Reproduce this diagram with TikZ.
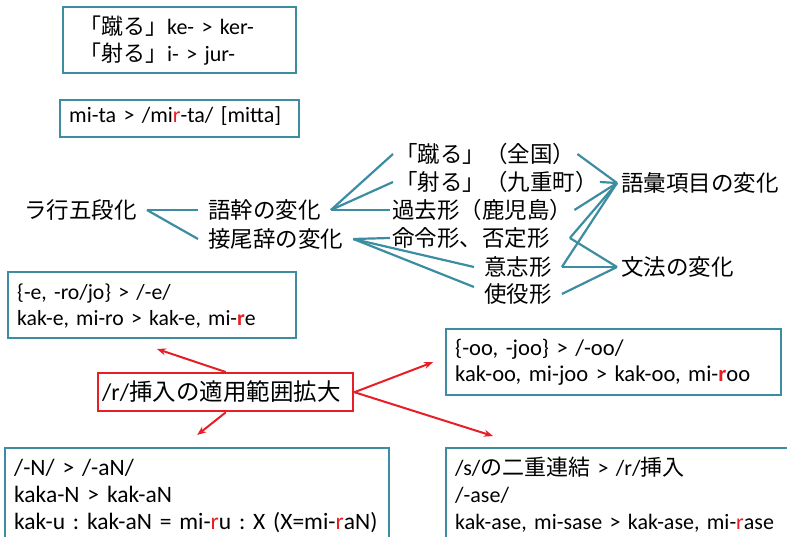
\documentclass[tikz,border=0pt]{standalone}
\usepackage{fontspec}
\setmainfont{Carlito}
\newfontfamily\jp{Noto Sans CJK JP}
\usetikzlibrary{arrows.meta}
\definecolor{tealc}{RGB}{60,141,162}
\definecolor{redc}{RGB}{232,30,36}
\newcommand{\rr}{\textcolor{redc}{r}}
\newcommand{\rb}{\textcolor{redc}{\textbf{r}}}
\frenchspacing
\begin{document}
\begin{tikzpicture}[x=1pt,y=-1pt,
  tbox/.style={draw=tealc, line width=2.4pt, fill=white, rectangle, inner sep=0pt, anchor=north west},
  redbox/.style={draw=redc, line width=2.4pt, fill=white, rectangle, inner sep=0pt, anchor=north west},
  btext/.style={anchor=base west, inner sep=0pt, text width=420pt, align=left, font=\fontsize{22}{26.7}\selectfont},
  tlabel/.style={anchor=west, inner xsep=2pt, inner ysep=0pt, font=\jp\fontsize{22.5}{27}\selectfont},
  wlabel/.style={tlabel, inner xsep=10pt},
  tline/.style={draw=tealc, line width=2.2pt},
  rarrow/.style={draw=redc, line width=2pt, -{Stealth[length=9pt,width=7pt]}},
]
\useasboundingbox (0,0) rectangle (787,537);
\clip (0,0) rectangle (787,537);

% boxes
\node[tbox, minimum width=233pt, minimum height=66pt] (b1) at (62,6) {};
\node[tbox, minimum width=239pt, minimum height=37pt] (b2) at (59,99) {};
\node[tbox, minimum width=288pt, minimum height=66pt] (b3) at (7,271) {};
\node[redbox, minimum width=255pt, minimum height=38pt] (rb) at (97,372) {};
\node[tbox, minimum width=335pt, minimum height=66pt] (b5) at (445,328) {};
\node[tbox, minimum width=384pt, minimum height=110pt] (b6) at (4,447) {};
\node[tbox, minimum width=360pt, minimum height=110pt] (b7) at (445,447) {};

% box texts
\node[btext] (t1) at (79,35) {{\jp 「蹴る」}ke- > ker-\\{\jp 「射る」}i- > jur-};
\node[btext] (t2) at (69,123) {mi-ta > /mi\rr-ta/ [mitta]};
\node[btext, font=\fontsize{21.7}{26.5}\selectfont] (t3) at (17,299.5) {\{-e, -ro/jo\} > /-e/\\kak-e, mi-ro > kak-e, mi-\rb e};
\node[btext, font=\fontsize{24}{27}\selectfont] (tr) at (102,400) {/r/{\jp\fontsize{23.5}{27}\selectfont 挿入の適用範囲拡大}};
\node[btext, font=\fontsize{22.6}{26.7}\selectfont] (t5) at (455,355) {\{-oo, -joo\} > /-oo/\\kak-oo, mi-joo > kak-oo, mi-\rb oo};
\node[btext, font=\fontsize{23.5}{27}\selectfont] (t6) at (14,475) {/-N/ > /-aN/\\kaka-N > kak-aN\\kak-u : kak-aN = mi-\rr u : X (X=mi-\rr aN)};
\node[btext, font=\fontsize{22}{27}\selectfont] (t7) at (455,475) {/s/{\jp の二重連結} > /r/{\jp 挿入}\\/-ase/\\kak-ase, mi-sase > kak-ase, mi-\rr ase};

% tree labels
\node[wlabel] (rago) at (14,210) {ラ行五段化};
\node[wlabel] (gokan) at (198,210) {語幹の変化};
\node[wlabel] (setsubi) at (198,239) {接尾辞の変化};
\node[tlabel] (keru) at (393,154) {「蹴る」（全国）};
\node[tlabel] (iru) at (393,182) {「射る」（九重町）};
\node[tlabel] (kako) at (390,210) {過去形（鹿児島）};
\node[tlabel] (meirei) at (390,238) {命令形、否定形};
\node[wlabel] (ishi) at (474,267) {意志形};
\node[wlabel] (shiyaku) at (474,294) {使役形};
\node[tlabel, inner xsep=4pt] (goi) at (617,183) {語彙項目の変化};
\node[tlabel, inner xsep=4pt] (bunpo) at (617,267) {文法の変化};

% tree connectors
\draw[tline] (rago.east) -- (gokan.west);
\draw[tline] (rago.east) -- (setsubi.west);
\draw[tline] (gokan.east) -- (keru.west);
\draw[tline] (gokan.east) -- (iru.west);
\draw[tline] (gokan.east) -- (kako.west);
\draw[tline] (setsubi.east) -- (meirei.west);
\draw[tline] (setsubi.east) -- (ishi.west);
\draw[tline] (setsubi.east) -- ([yshift=7pt]shiyaku.west);
\draw[tline] (keru.east) -- (goi.west);
\draw[tline] (iru.east) -- (goi.west);
\draw[tline] (kako.east) -- (goi.west);
\draw[tline] ([xshift=18pt]meirei.east) -- (goi.west);
\draw[tline] (ishi.east) -- (goi.west);
\draw[tline] ([xshift=18pt]meirei.east) -- (bunpo.west);
\draw[tline] (ishi.east) -- (bunpo.west);
\draw[tline] (shiyaku.east) -- (bunpo.west);

% red arrows
\coordinate (a1) at (157,349);
\coordinate (a4) at (493,436);
\draw[rarrow] (rb.north) -- (a1);
\draw[rarrow] (rb.south) -- ([yshift=12pt]b6.north);
\draw[rarrow] (rb.east) -- ([xshift=-12pt]b5.west);
\draw[rarrow] (rb.east) -- (a4);
\end{tikzpicture}
\end{document}
